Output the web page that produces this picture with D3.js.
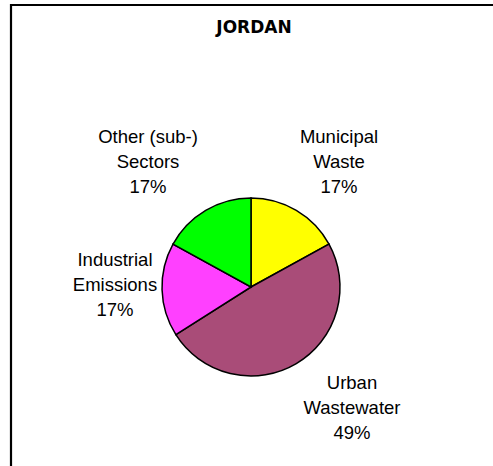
<!DOCTYPE html>
<html><head><meta charset="utf-8">
<script src="https://cdn.jsdelivr.net/npm/d3@7"></script>
<style>body{margin:0;background:#fff;} svg{display:block;}</style>
</head><body><div id="chart"></div>
<script>
const categories = ["Municipal Waste", "Urban Wastewater", "Industrial Emissions", "Other (sub-) Sectors"];
const values = [17, 49, 17, 17];
const colors = ["#FFFF00", "#A94C78", "#FF40FF", "#00FF00"];
const labelLines = [["Municipal", "Waste"], ["Urban", "Wastewater"], ["Industrial", "Emissions"], ["Other (sub-)", "Sectors"]];
const title = "JORDAN";

const W = 493, H = 466;
const svg = d3.select("#chart").append("svg").attr("width", W).attr("height", H);
svg.append("rect").attr("width", W).attr("height", H).attr("fill", "#fff");
// frame (top and left edges visible)
svg.append("path").attr("d", `M11,${H} L11,5 L${W},5`).attr("fill", "none").attr("stroke", "#000").attr("stroke-width", 2.2);

svg.append("text").attr("x", 254).attr("y", 33).attr("text-anchor", "middle")
  .attr("font-family", "DejaVu Sans").attr("font-weight", "bold").attr("font-size", 17).text(title);

const cx = 251, cy = 287, r = 89;
const pie = d3.pie().sort(null).value(d => d)(values);
const arc = d3.arc().innerRadius(0).outerRadius(r);
const g = svg.append("g").attr("transform", `translate(${cx},${cy})`);
g.selectAll("path").data(pie).join("path").attr("d", arc)
  .attr("fill", (d, i) => colors[i]).attr("stroke", "#000").attr("stroke-width", 1.5);

const labelPos = [[339, 143], [352, 389], [115, 266], [148, 143]];
const total = d3.sum(values);
labelLines.forEach((lines, i) => {
  const t = svg.append("text").attr("text-anchor", "middle")
    .attr("font-family", "Liberation Sans, Arial, sans-serif").attr("font-size", 18.5).attr("fill", "#000");
  const all = lines.concat([Math.round(values[i] / total * 100) + "%"]);
  all.forEach((s, k) => {
    t.append("tspan").attr("x", labelPos[i][0]).attr("y", labelPos[i][1] + k * 25.2).text(s);
  });
});
</script></body></html>
